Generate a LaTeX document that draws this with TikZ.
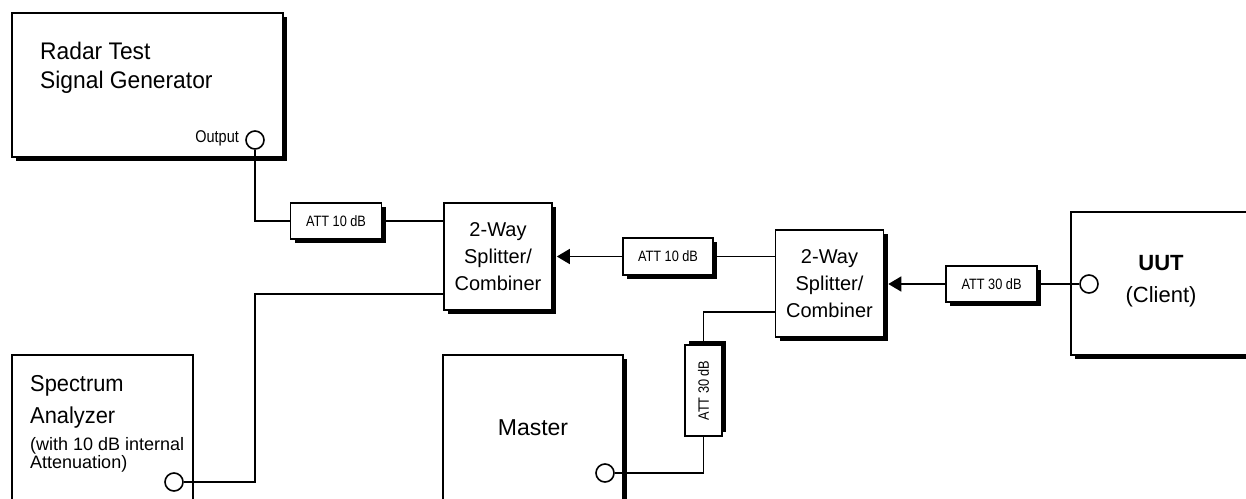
\documentclass[tikz,border=0pt]{standalone}
\usepackage{fontspec}
\usepackage{graphicx}
\setmainfont{Liberation Sans}
\newfontfamily\narrowfont[FakeStretch=0.85]{Liberation Sans}
\newfontfamily\titlefamily[FakeStretch=0.95]{Liberation Sans}
\usetikzlibrary{arrows.meta,shadows,positioning}

\newcommand\titlefont{\titlefamily\fontsize{24}{29}\selectfont}
\newcommand\blockfont{\fontsize{20}{27}\selectfont}
\newcommand\notefont{\fontsize{18}{18}\selectfont}
\newcommand\attfont{\narrowfont\fontsize{15}{15}\selectfont}

\tikzset{
  box/.style={draw, line width=1.6pt, fill=white, inner sep=0pt},
  shadowed/.style={drop shadow={shadow xshift=4pt, shadow yshift=-4pt, opacity=1, fill=black}},
  attbox/.style={box, shadowed, minimum width=91pt, minimum height=36pt, font=\attfont},
  splitbox/.style={box, shadowed, minimum width=108pt, minimum height=107pt, align=center, font=\blockfont},
  port/.style={circle, draw, line width=1.6pt, fill=white, minimum size=18pt, inner sep=0pt},
  wire/.style={line width=1.6pt},
  feed/.style={wire, -{Triangle[length=13pt, width=15pt]}},
}

\begin{document}
\begin{tikzpicture}[x=1pt, y=-1pt]

\clip (0,0) rectangle (1246,498);

% Instruments
\node[box, shadowed, minimum width=271pt, minimum height=144pt] (radar) at (147.5,85) {};
\node[box, minimum width=181pt, minimum height=165pt] (spectrum) at (102.5,437.5) {};
\node[box, shadowed, minimum width=180pt, minimum height=165pt] (master) at (533,437.5) {};
\node[box, shadowed, minimum width=199pt, minimum height=143pt] (uut) at (1170.5,283.5) {};

% Texts of the instruments
\node[anchor=north west, align=left, inner sep=0pt, font=\titlefont] (radartext) at (40,41.5) {Radar Test\\Signal Generator};
\node[anchor=base east, inner sep=0pt, font=\narrowfont\fontsize{17}{17}\selectfont] (outtext) at (239,142) {Output};
\node[anchor=base west, align=left, inner sep=0pt, font=\titlefamily\fontsize{23}{32}\selectfont] (spectext) at (30,423) {Spectrum\\Analyzer};
\node[anchor=base west, align=left, inner sep=0pt, font=\notefont] (specnote) at (30,468) {(with 10 dB internal\\Attenuation)};
\node[font=\fontsize{23}{30}\selectfont] (mastertext) at (533,428) {Master};
\node[align=center, font=\fontsize{22}{32}\selectfont] (uuttext) at (1161,281) {\textbf{UUT}\\(Client)};

% Ports
\node[port] (radarport) at (255,140) {};
\node[port] (specport) at (174,482) {};
\node[port] (masterport) at (605,473) {};
\node[port] (uutport) at (1089,284) {};

% Splitters and attenuators
\node[attbox] (att1) at (336,221) {ATT 10 dB};
\node[splitbox] (split1) at (498,256.5) {2-Way\\Splitter/\\Combiner};
\node[attbox, minimum width=90pt, minimum height=37pt] (att2) at (668,256.5) {ATT 10 dB};
\node[splitbox] (split2) at (829.5,283.5) {2-Way\\Splitter/\\Combiner};
\node[attbox] (att3) at (991.5,284) {ATT 30 dB};
\node[box, drop shadow={shadow xshift=4pt, shadow yshift=4pt, opacity=1, fill=black},
      minimum width=37pt, minimum height=91pt, font=\attfont] (att4) at (703.5,390.5) {\rotatebox{90}{ATT 30 dB}};

% Connections
\draw[wire] (radarport.south) |- (att1.west);
\draw[wire] (att1.east) -- (split1.west |- att1.east);
\draw[feed] (att2.west) -- ([xshift=4pt]split1.east |- att2.west);
\draw[wire] (att2.east) -- (split2.west |- att2.east);
\draw[feed] (att3.west) -- ([xshift=4pt]split2.east |- att3.west);
\draw[wire] (att3.east) -- (uutport.west);
\draw[wire] ([yshift=17pt]split1.south west) -| (radarport.south |- specport) -- (specport.east);
\draw[wire] ([yshift=26pt]split2.south west) -| (att4.north);
\draw[wire] (att4.south) |- (masterport.east);

\end{tikzpicture}
\end{document}
